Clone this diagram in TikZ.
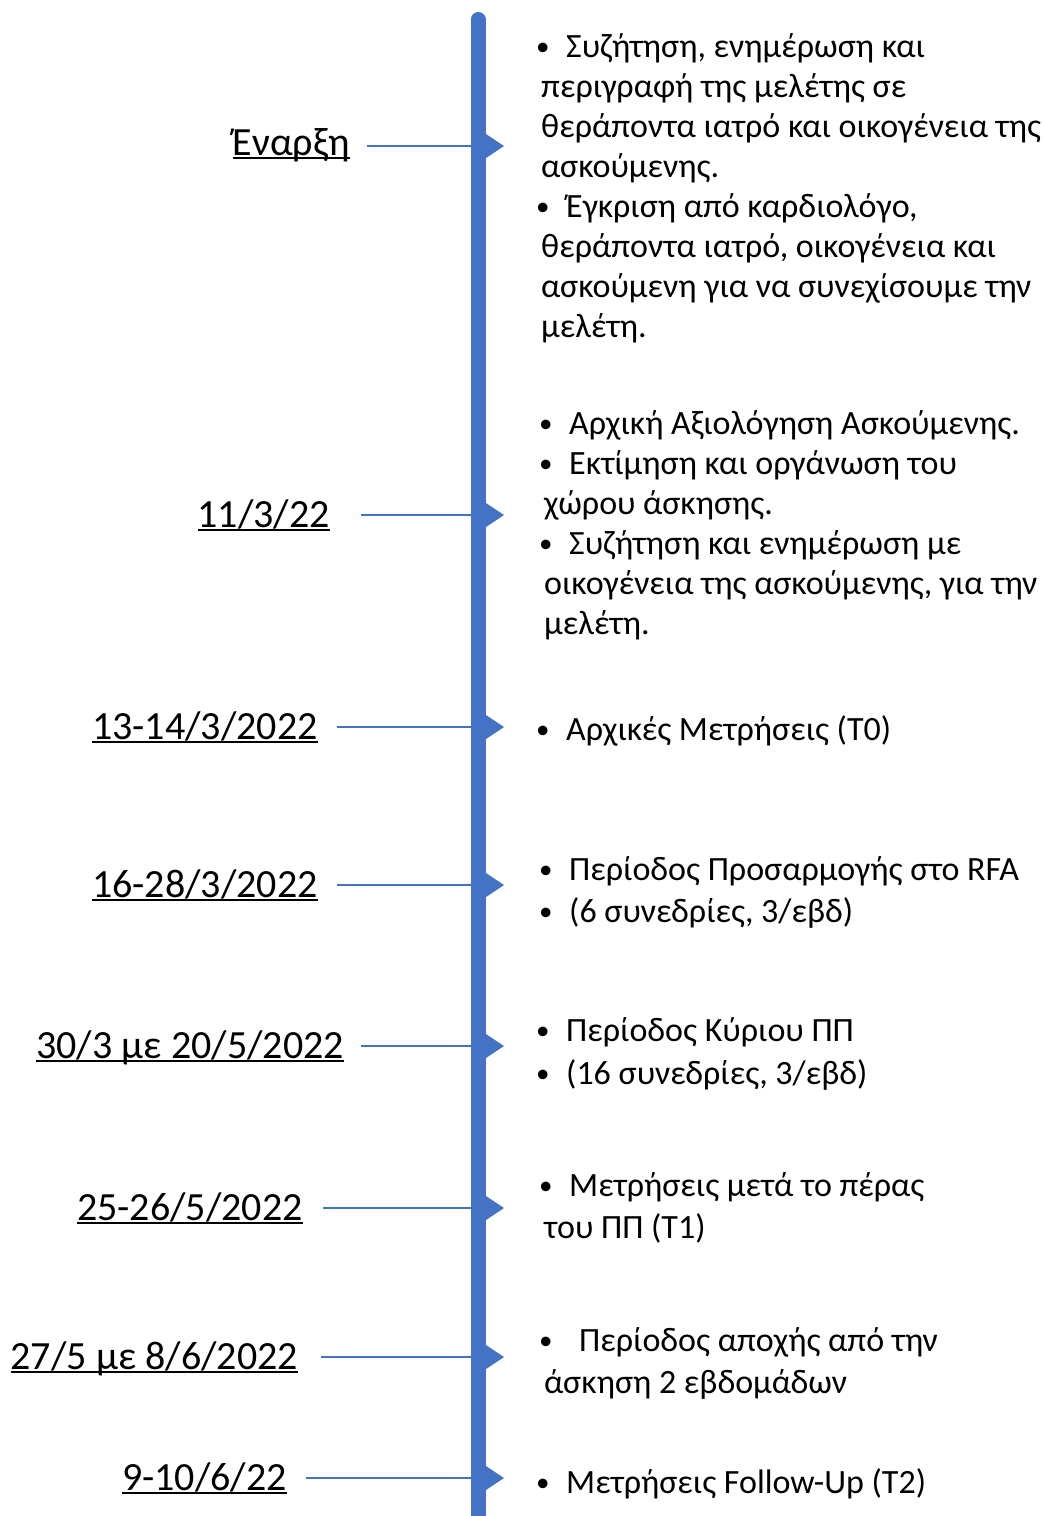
\documentclass[tikz,border=0pt]{standalone}
\usepackage{fontspec}
\setmainfont{Carlito}
\usetikzlibrary{calc}
\definecolor{tlblue}{HTML}{4472C4}
% underlined date label
\newcommand\dateul[1]{\setbox0=\hbox{#1}\rlap{\rule[-0.11em]{\wd0}{0.07em}}\box0}
% small bullet, then the gap to the text
\newcommand\bulletgap[1][25pt]{\makebox[#1][l]{\hspace*{-5pt}\raisebox{2.1pt}{\fontsize{27}{27}\selectfont •}}}
\newcommand\itm{\bulletgap}

\begin{document}
\begin{tikzpicture}[x=1pt,y=-1pt,line join=round,
  axis/.style={line width=15pt,tlblue,line cap=round},
  tick/.style={line width=2.6pt,tlblue},
  datelbl/.style={anchor=base east,inner sep=0pt,font=\fontsize{40}{48}\selectfont},
  info/.style={anchor=north west,inner sep=0pt,align=left,font=\fontsize{34}{#1}\selectfont},
  info/.default=40]
  \useasboundingbox (0,0) rectangle (1042,1516);
  \clip (0,0) rectangle (1042,1516);

  % events on the axis
  \coordinate (e1) at (478,146);
  \coordinate (e2) at (478,515);
  \coordinate (e3) at (478,727);
  \coordinate (e4) at (478,885);
  \coordinate (e5) at (478,1046);
  \coordinate (e6) at (478,1208);
  \coordinate (e7) at (478,1357);
  \coordinate (e8) at (478,1478);

  % dates
  \node[datelbl] (d1) at (350,155) {\dateul{Έναρξη}};
  \node[datelbl] (d2) at (330,527) {\dateul{11/3/22}};
  \node[datelbl] (d3) at (318,739) {\dateul{13-14/3/2022}};
  \node[datelbl] (d4) at (318,897) {\dateul{16-28/3/2022}};
  \node[datelbl] (d5) at (344,1058) {\dateul{30/3 με 20/5/2022}};
  \node[datelbl] (d6) at (303,1220) {\dateul{25-26/5/2022}};
  \node[datelbl] (d7) at (298,1369) {\dateul{27/5 με 8/6/2022}};
  \node[datelbl] (d8) at (287,1490) {\dateul{9-10/6/22}};

  \draw[tick,shorten <=17pt] (d1.east |- e1) -- (e1);
  \draw[tick,shorten <=31pt] (d2.east |- e2) -- (e2);
  \draw[tick,shorten <=19pt] (d3.east |- e3) -- (e3);
  \draw[tick,shorten <=19pt] (d4.east |- e4) -- (e4);
  \draw[tick,shorten <=17pt] (d5.east |- e5) -- (e5);
  \draw[tick,shorten <=20pt] (d6.east |- e6) -- (e6);
  \draw[tick,shorten <=23pt] (d7.east |- e7) -- (e7);
  \draw[tick,shorten <=19pt] (d8.east |- e8) -- (e8);

  % time axis
  \draw[axis] (478,19.5) -- (478,1560);
  \foreach \e in {e1,e2,e3,e4,e5,e6,e7,e8}
    \fill[tlblue] ($(\e)+(8,-12)$) -- ($(\e)+(26,0)$) -- ($(\e)+(8,12)$) -- cycle;

  % what happens at each step
  \node[info] (s1) at (541,29) {\strut\itm Συζήτηση, ενημέρωση και\\
    περιγραφή της μελέτης σε\\
    θεράποντα ιατρό και οικογένεια της\\
    ασκούμενης.\\
    \itm Έγκριση από καρδιολόγο,\\
    θεράποντα ιατρό, οικογένεια και\\
    ασκούμενη για να συνεχίσουμε την\\
    μελέτη.};
  \node[info] (s2) at (544,406) {\strut\itm Αρχική Αξιολόγηση Ασκούμενης.\\
    \itm Εκτίμηση και οργάνωση του\\
    χώρου άσκησης.\\
    \itm Συζήτηση και ενημέρωση με\\
    οικογένεια της ασκούμενης, για την\\
    μελέτη.};
  \node[info] (s3) at (541,712) {\strut\itm Αρχικές Μετρήσεις (T0)};
  \node[info=42] (s4) at (544,850.6) {\strut\itm Περίοδος Προσαρμογής στο RFA\\
    \itm (6 συνεδρίες, 3/εβδ)};
  \node[info=43] (s5) at (541,1011) {\strut\itm Περίοδος Κύριου ΠΠ\\
    \itm (16 συνεδρίες, 3/εβδ)};
  \node[info=42] (s6) at (544,1166.6) {\strut\itm Μετρήσεις μετά το πέρας\\
    του ΠΠ (T1)};
  \node[info=42] (s7) at (544,1321.6) {\strut\bulletgap[35pt]Περίοδος αποχής από την\\
    άσκηση 2 εβδομάδων};
  \node[info] (s8) at (541,1465) {\strut\itm Μετρήσεις Follow-Up (T2)};
\end{tikzpicture}
\end{document}
